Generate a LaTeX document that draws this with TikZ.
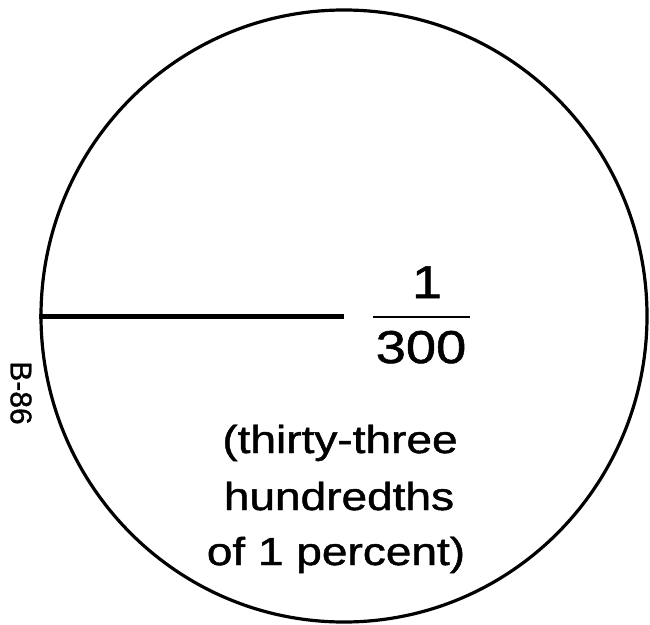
\documentclass[tikz,border=0pt]{standalone}
\usepackage{fontspec}
\setmainfont{Liberation Sans}[FakeStretch=1.18, FakeBold=1.2]
\newfontfamily\tagfont{Liberation Sans}[FakeBold=1]
\usetikzlibrary{shapes.geometric}

\begin{document}
\begin{tikzpicture}[x=1pt, y=-1pt,
    caption/.style={anchor=base, inner sep=0pt, font=\fontsize{39}{39}\selectfont},
    fracnum/.style={anchor=base, inner sep=0pt, font=\fontsize{46}{46}\selectfont}]
  \useasboundingbox (0,0) rectangle (650,624);

  % disc and radius
  \node[ellipse, draw, line width=3.2pt, inner sep=0pt,
        minimum width=606, minimum height=612] (disc) at (344,316) {};
  \draw[line width=5pt] (disc.west) -- (disc.center);

  % fraction
  \node[fracnum] (num) at (427,298) {1};
  \node[fracnum] (den) at (421,363) {300};
  \coordinate (barL) at (373,317);
  \coordinate (barR) at (470,317);
  \draw[line width=2.2pt] (barL) -- (barR);

  % caption lines
  \node[caption] (capA) at (340,453) {(thirty-three};
  \node[caption] (capB) at (339,510) {hundredths};
  \node[caption] (capC) at (336,565) {of 1 percent)};

  % sheet tag
  \node[rotate=-90, inner sep=0pt, font=\tagfont\fontsize{30}{30}\selectfont]
    (tag) at (21,393) {B-86};
\end{tikzpicture}
\end{document}
